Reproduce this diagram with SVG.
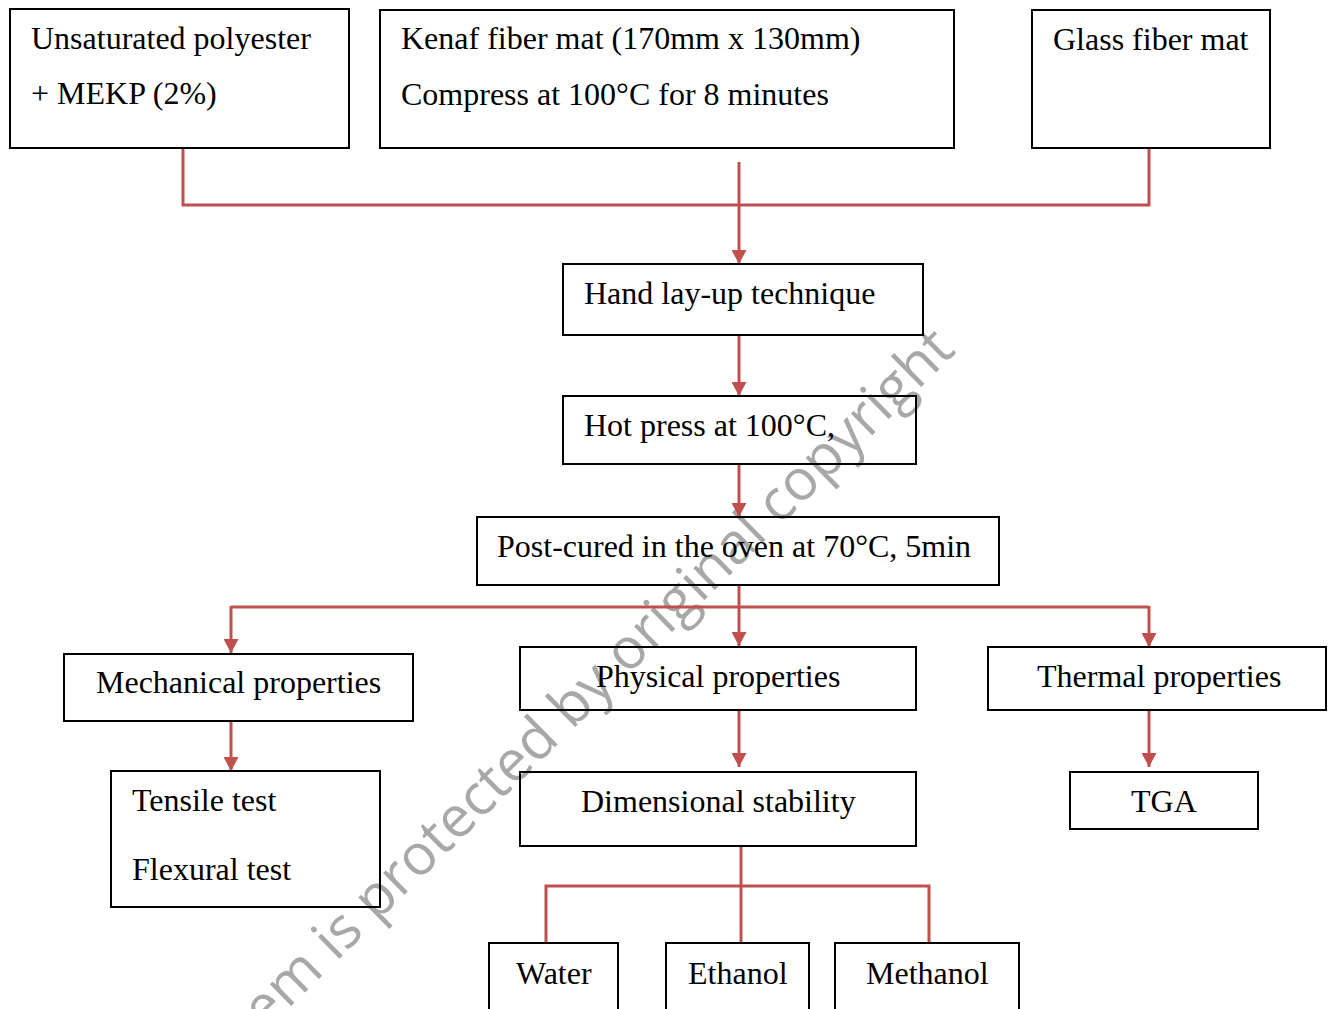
<svg xmlns="http://www.w3.org/2000/svg" width="1334" height="1009" viewBox="0 0 1334 1009">
<style>
.box{fill:none;stroke:#000;stroke-width:2}
.t{font-family:"Liberation Serif","Times New Roman",serif;font-size:32px;fill:#000}
.c{fill:none;stroke:#C0504D;stroke-width:3}
.a{marker-end:url(#arr)}
.wm{font-family:"Open Sans","Noto Sans",sans-serif;font-size:57px;fill:#a8a8a8}
</style>
<defs>
<marker id="arr" viewBox="0 0 14 15" refX="14" refY="7.5" markerWidth="14" markerHeight="15" markerUnits="userSpaceOnUse" orient="auto">
<path d="M0,0 L14,7.5 L0,15 z" fill="#C0504D"/>
</marker>
</defs>
<rect width="1334" height="1009" fill="#fff"/>
<text class="wm" transform="translate(265 1032) rotate(-44.5)">em is protected by original copyright</text>
<g id="connectors">
<polyline class="c" points="183,149 183,205 1149,205 1149,149"/>
<line class="c a" x1="739" y1="162" x2="739" y2="264"/>
<line class="c a" x1="739" y1="335" x2="739" y2="396"/>
<line class="c a" x1="739" y1="464" x2="739" y2="517"/>
<line class="c a" x1="739" y1="585" x2="739" y2="646"/>
<line class="c" x1="231" y1="607" x2="1149" y2="607"/>
<line class="c a" x1="231" y1="606" x2="231" y2="653"/>
<line class="c a" x1="1149" y1="606" x2="1149" y2="647"/>
<line class="c a" x1="231" y1="721" x2="231" y2="771"/>
<line class="c a" x1="739" y1="710" x2="739" y2="767"/>
<line class="c a" x1="1149" y1="710" x2="1149" y2="767"/>
<line class="c" x1="741" y1="846" x2="741" y2="943"/>
<polyline class="c" points="546,943 546,886 929,886 929,943"/>
</g>
<g id="n1"><rect class="box" x="10" y="9" width="339" height="139"/><text class="t" x="31" y="49">Unsaturated polyester</text><text class="t" x="31" y="104">+ MEKP (2%)</text></g>
<g id="n2"><rect class="box" x="380" y="10" width="574" height="138"/><text class="t" x="401" y="49">Kenaf fiber mat (170mm x 130mm)</text><text class="t" x="401" y="105">Compress at 100°C for 8 minutes</text></g>
<g id="n3"><rect class="box" x="1032" y="10" width="238" height="138"/><text class="t" x="1053" y="50">Glass fiber mat</text></g>
<g id="n4"><rect class="box" x="563" y="264" width="360" height="71"/><text class="t" x="584" y="304">Hand lay-up technique</text></g>
<g id="n5"><rect class="box" x="563" y="396" width="353" height="68"/><text class="t" x="584" y="436">Hot press at 100°C,</text></g>
<g id="n6"><rect class="box" x="477" y="517" width="522" height="68"/><text class="t" x="497" y="557">Post-cured in the oven at 70°C, 5min</text></g>
<g id="n7"><rect class="box" x="64" y="654" width="349" height="67"/><text class="t" x="96" y="693">Mechanical properties</text></g>
<g id="n8"><rect class="box" x="520" y="647" width="396" height="63"/><text class="t" x="596" y="687">Physical properties</text></g>
<g id="n9"><rect class="box" x="988" y="647" width="338" height="63"/><text class="t" x="1037" y="687">Thermal properties</text></g>
<g id="n10"><rect class="box" x="111" y="771" width="269" height="136"/><text class="t" x="132" y="811">Tensile test</text><text class="t" x="132" y="880">Flexural test</text></g>
<g id="n11"><rect class="box" x="520" y="772" width="396" height="74"/><text class="t" x="581" y="812">Dimensional stability</text></g>
<g id="n12"><rect class="box" x="1070" y="772" width="188" height="57"/><text class="t" x="1131" y="812">TGA</text></g>
<g id="n13"><rect class="box" x="489" y="943" width="129" height="80"/><text class="t" x="516" y="984">Water</text></g>
<g id="n14"><rect class="box" x="666" y="943" width="143" height="80"/><text class="t" x="688" y="984">Ethanol</text></g>
<g id="n15"><rect class="box" x="835" y="943" width="184" height="80"/><text class="t" x="866" y="984">Methanol</text></g>
</svg>
